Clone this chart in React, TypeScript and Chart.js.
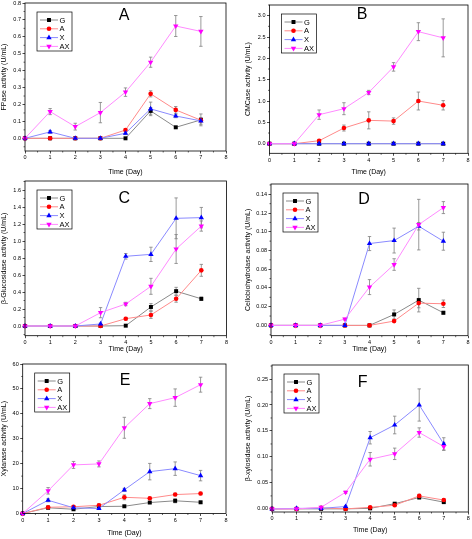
import React, { useEffect, useRef } from "react";
import { Chart, registerables } from "chart.js";

Chart.register(...registerables);

// ---------- data ----------
const days = [0, 1, 2, 3, 4, 5, 6, 7];
const seriesNames = ["G", "A", "X", "AX"];
const xTickLabels = ["0", "1", "2", "3", "4", "5", "6", "7", "8"];
const xTitle = "Time (Day)";

// A: FPase
const fpaseValues = [
  [0, 0, 0, 0, 0, 0.162, 0.065, 0.109],
  [0, 0, 0, 0, 0.049, 0.263, 0.168, 0.107],
  [0, 0.038, 0, 0, 0.03, 0.174, 0.132, 0.103],
  [0, 0.158, 0.069, 0.152, 0.273, 0.45, 0.664, 0.632],
];
const fpaseErrors = [
  [0, 0, 0, 0, 0, 0.02, 0.006, 0.035],
  [0, 0, 0, 0, 0.008, 0.018, 0.02, 0.01],
  [0, 0.008, 0, 0, 0.008, 0.04, 0.01, 0.02],
  [0, 0.018, 0.02, 0.06, 0.025, 0.03, 0.062, 0.088],
];
const fpaseTicks = ["0.0", "0.1", "0.2", "0.3", "0.4", "0.5", "0.6", "0.7", "0.8"];

// B: CMCase
const cmcaseValues = [
  [0, 0, 0, 0, 0, 0, 0, 0],
  [0, 0, 0.07, 0.367, 0.547, 0.53, 1.0, 0.9],
  [0, 0, 0, 0, 0, 0, 0, 0],
  [0, 0, 0.68, 0.82, 1.2, 1.8, 2.625, 2.48],
];
const cmcaseErrors = [
  [0, 0, 0, 0, 0, 0, 0, 0],
  [0, 0, 0.02, 0.07, 0.2, 0.075, 0.21, 0.11],
  [0, 0, 0, 0, 0, 0, 0, 0],
  [0, 0.03, 0.11, 0.14, 0.05, 0.1, 0.21, 0.445],
];
const cmcaseTicks = ["0.0", "0.5", "1.0", "1.5", "2.0", "2.5", "3.0"];

// C: beta-glucosidase
const glucValues = [
  [0, 0, 0, 0, 0.004, 0.224, 0.41, 0.32],
  [0, 0, 0, 0, 0.086, 0.13, 0.32, 0.655],
  [0, 0, 0, 0.024, 0.82, 0.843, 1.267, 1.275],
  [0, 0, 0, 0.157, 0.259, 0.467, 0.906, 1.176],
];
const glucErrors = [
  [0, 0, 0, 0, 0, 0.04, 0.045, 0.02],
  [0, 0, 0, 0, 0.015, 0.04, 0.04, 0.07],
  [0, 0.01, 0.01, 0.01, 0.033, 0.084, 0.24, 0.12],
  [0, 0, 0, 0.06, 0.02, 0.094, 0.17, 0.06],
];
const glucTicks = ["0.0", "0.2", "0.4", "0.6", "0.8", "1.0", "1.2", "1.4", "1.6"];

// D: cellobiohydrolase
const cbhValues = [
  [0, 0, 0, 0, 0, 0.0117, 0.027, 0.0135],
  [0, 0, 0, 0, 0, 0.0046, 0.0238, 0.0231],
  [0, 0, 0, 0, 0.0874, 0.0906, 0.1059, 0.0899],
  [0, 0, 0, 0.0067, 0.0409, 0.065, 0.1076, 0.1258],
];
const cbhErrors = [
  [0, 0, 0, 0, 0, 0.0048, 0.0126, 0.0015],
  [0, 0, 0, 0, 0, 0.001, 0.005, 0.004],
  [0, 0, 0, 0, 0.0075, 0.0133, 0.004, 0.0096],
  [0, 0, 0, 0.001, 0.008, 0.0062, 0.027, 0.0064],
];
const cbhTicks = ["0.00", "0.02", "0.04", "0.06", "0.08", "0.10", "0.12", "0.14"];

// E: xylanase
const xylValues = [
  [0, 2.3, 1.7, 2.8, 2.9, 4.4, 5.1, 4.5],
  [0, 2.5, 2.7, 3.3, 6.5, 6.1, 7.6, 8.0],
  [0, 5.3, 2.3, 2.0, 9.5, 16.8, 18.0, 15.2],
  [0, 9.1, 19.5, 19.9, 34.4, 44.1, 46.5, 51.7],
];
const xylErrors = [
  [0, 0.4, 0.3, 0.3, 0.3, 0.4, 0.8, 0.4],
  [0, 0.5, 0.4, 0.5, 1.0, 0.4, 0.5, 0.5],
  [0, 0.6, 0.4, 0.4, 0.6, 3.3, 2.7, 2.1],
  [0, 1.3, 1.4, 1.2, 4.2, 2.0, 3.5, 3.0],
];
const xylTicks = ["0", "10", "20", "30", "40", "50", "60"];

// F: beta-xylosidase
const xylosValues = [
  [0, 0, 0, 0, 0.001, 0.01, 0.022, 0.013],
  [0, 0, 0.002, 0, 0.003, 0.007, 0.025, 0.017],
  [0, 0.001, 0.001, 0.0045, 0.137, 0.1615, 0.2, 0.125],
  [0, 0, 0.003, 0.032, 0.0955, 0.106, 0.147, 0.12],
];
const xylosErrors = [
  [0, 0, 0, 0, 0.001, 0.002, 0.003, 0.002],
  [0, 0, 0, 0, 0.001, 0.002, 0.003, 0.002],
  [0, 0, 0, 0.002, 0.012, 0.017, 0.031, 0.012],
  [0, 0, 0, 0.002, 0.013, 0.011, 0.009, 0.007],
];
const xylosTicks = ["0.00", "0.05", "0.10", "0.15", "0.20", "0.25"];

// ---------- styles ----------
const FONT = "'Liberation Sans', Arial, sans-serif";
const lineColors = ["#8a8a8a", "#ff8a8a", "#8a8aff", "#ff8aff"];
const markerColors = ["#000000", "#ff0000", "#0000ff", "#ff00ff"];
const markerStyles = ["rect", "circle", "triangle", "triangle"];
const markerRotation = [0, 0, 0, 180];
const markerRadius = [2.8, 2.3, 3.1, 3.1];
const errColor = "#808080";
const TICK_FONT = 5.5;
const TITLE_FONT = 7;
const LEGEND_FONT = 7.5;

type PanelCfg = {
  letter: string;
  yTitle: string;
  values: number[][];
  errors: number[][];
  yTicks: string[];
  yMin: number;
  yMax: number;
  plot: { l: number; t: number; r: number; b: number };
  yTitleX: number;
  xTitleY: number;
  letterPos: { x: number; y: number };
};

const panels: PanelCfg[] = [
  {
    letter: "A", yTitle: "FPase activity (U/mL)", values: fpaseValues, errors: fpaseErrors,
    yTicks: fpaseTicks, yMin: -0.075, yMax: 0.8,
    plot: { l: 25, t: 3, r: 226, b: 151 }, yTitleX: 4.5, xTitleY: 172, letterPos: { x: 124, y: 15 },
  },
  {
    letter: "B", yTitle: "CMCase activity (U/mL)", values: cmcaseValues, errors: cmcaseErrors,
    yTicks: cmcaseTicks, yMin: -0.225, yMax: 3.25,
    plot: { l: 269.5, t: 5, r: 468, b: 153.3 }, yTitleX: 248, xTitleY: 171.7, letterPos: { x: 362, y: 14 },
  },
  {
    letter: "C", yTitle: "β-Glucosidase activity (U/mL)", values: glucValues, errors: glucErrors,
    yTicks: glucTicks, yMin: -0.114, yMax: 1.706,
    plot: { l: 25, t: 181, r: 226.5, b: 335.7 }, yTitleX: 4, xTitleY: 349.3, letterPos: { x: 124.3, y: 197.7 },
  },
  {
    letter: "D", yTitle: "Cellobiohydrolase activity (U/mL)", values: cbhValues, errors: cbhErrors,
    yTicks: cbhTicks, yMin: -0.011, yMax: 0.151,
    plot: { l: 271, t: 184, r: 468, b: 335.7 }, yTitleX: 248, xTitleY: 348.7, letterPos: { x: 364, y: 199 },
  },
  {
    letter: "E", yTitle: "Xylanase activity (U/mL)", values: xylValues, errors: xylErrors,
    yTicks: xylTicks, yMin: 0, yMax: 60,
    plot: { l: 22.7, t: 364, r: 226, b: 513.5 }, yTitleX: 4, xTitleY: 533, letterPos: { x: 125, y: 380 },
  },
  {
    letter: "F", yTitle: "β-xylosidase activity (U/mL)", values: xylosValues, errors: xylosErrors,
    yTicks: xylosTicks, yMin: -0.006, yMax: 0.277,
    plot: { l: 272, t: 365, r: 468.3, b: 512 }, yTitleX: 248, xTitleY: 530, letterPos: { x: 362.7, y: 381.7 },
  },
];

function drawMarker(ctx: CanvasRenderingContext2D, s: number, x: number, y: number) {
  const style = markerStyles[s];
  const r = markerRadius[s];
  ctx.save();
  ctx.fillStyle = markerColors[s];
  ctx.beginPath();
  if (style === "rect") {
    const h = r / Math.SQRT2;
    ctx.rect(x - h, y - h, 2 * h, 2 * h);
  } else if (style === "circle") {
    ctx.arc(x, y, r, 0, Math.PI * 2);
  } else {
    let a = (markerRotation[s] * Math.PI) / 180;
    for (let k = 0; k < 3; k++) {
      const px = x + Math.sin(a) * r;
      const py = y - Math.cos(a) * r;
      if (k === 0) ctx.moveTo(px, py);
      else ctx.lineTo(px, py);
      a += (2 * Math.PI) / 3;
    }
    ctx.closePath();
  }
  ctx.fill();
  ctx.restore();
}

const LH_TITLE = TITLE_FONT * 1.2;

function PanelChart({ p }: { p: PanelCfg }) {
  const ref = useRef<HTMLCanvasElement>(null);
  const cLeft = Math.floor(p.yTitleX - LH_TITLE / 2);
  const padLeft = p.yTitleX - LH_TITLE / 2 - cLeft;
  const cTop = Math.floor(p.plot.t - 10);
  const padTop = p.plot.t - cTop;
  const cRight = Math.ceil(p.plot.r + 8);
  const padRight = cRight - p.plot.r;
  const xAxisH = p.xTitleY + LH_TITLE / 2 - p.plot.b;
  const cBottom = Math.ceil(p.xTitleY + LH_TITLE / 2 + 1);
  const padBottom = cBottom - (p.xTitleY + LH_TITLE / 2);
  const yAxisW = p.plot.l - (cLeft + padLeft);
  const w = cRight - cLeft;
  const h = cBottom - cTop;

  useEffect(() => {
    const canvas = ref.current;
    if (!canvas) return;
    const yVals = p.yTicks.map((t) => parseFloat(t));
    const xVals = xTickLabels.map((t) => parseFloat(t));

    const decor = {
      id: "decor",
      beforeDatasetsDraw(chart: any) {
        const ctx: CanvasRenderingContext2D = chart.ctx;
        const xs = chart.scales.x;
        const ys = chart.scales.y;
        ctx.save();
        ctx.strokeStyle = errColor;
        ctx.lineWidth = 0.8;
        p.errors.forEach((errs, s) => {
          errs.forEach((e, i) => {
            if (!e) return;
            const v = p.values[s][i];
            const px = xs.getPixelForValue(days[i]);
            const pt = ys.getPixelForValue(v + e);
            const pb = ys.getPixelForValue(v - e);
            ctx.beginPath();
            ctx.moveTo(px, pt);
            ctx.lineTo(px, pb);
            ctx.moveTo(px - 1.7, pt);
            ctx.lineTo(px + 1.7, pt);
            ctx.moveTo(px - 1.7, pb);
            ctx.lineTo(px + 1.7, pb);
            ctx.stroke();
          });
        });
        ctx.restore();
      },
      afterDraw(chart: any) {
        const ctx: CanvasRenderingContext2D = chart.ctx;
        const { left, top, right, bottom } = chart.chartArea;
        const xs = chart.scales.x;
        const ys = chart.scales.y;
        ctx.save();
        // frame
        ctx.strokeStyle = "#000";
        ctx.lineWidth = 0.8;
        ctx.strokeRect(left, top, right - left, bottom - top);
        // minor ticks
        ctx.lineWidth = 0.6;
        ctx.beginPath();
        const step = yVals[1] - yVals[0];
        for (let k = -1; k < yVals.length; k++) {
          const v = yVals[0] + (k + 0.5) * step;
          if (v < p.yMin || v > p.yMax) continue;
          const py = ys.getPixelForValue(v);
          ctx.moveTo(left - 1.5, py);
          ctx.lineTo(left, py);
        }
        for (let k = 0; k < xVals.length - 1; k++) {
          const px = xs.getPixelForValue(xVals[k] + 0.5);
          ctx.moveTo(px, bottom);
          ctx.lineTo(px, bottom + 1.5);
        }
        ctx.stroke();
        // legend
        const bx = left + 12;
        const by = top + 9;
        ctx.lineWidth = 0.7;
        ctx.strokeStyle = "#000";
        ctx.strokeRect(bx, by, 35, 39);
        ctx.font = `${LEGEND_FONT}px ${FONT}`;
        ctx.textBaseline = "middle";
        ctx.textAlign = "left";
        seriesNames.forEach((name, s) => {
          const ry = by + 8 + s * 8.8;
          ctx.strokeStyle = lineColors[s];
          ctx.lineWidth = 1;
          ctx.beginPath();
          ctx.moveTo(bx + 3, ry);
          ctx.lineTo(bx + 21, ry);
          ctx.stroke();
          drawMarker(ctx, s, bx + 12, ry);
          ctx.fillStyle = "#000";
          ctx.fillText(name, bx + 22.5, ry + 0.5);
        });
        // panel letter
        ctx.font = `16px ${FONT}`;
        ctx.textAlign = "center";
        ctx.textBaseline = "middle";
        ctx.fillStyle = "#000";
        ctx.fillText(p.letter, p.letterPos.x - cLeft, p.letterPos.y - cTop + 1);
        ctx.restore();
      },
    };

    const chart = new Chart(canvas, {
      type: "scatter",
      data: {
        datasets: seriesNames.map((name, s) => ({
          label: name,
          data: days.map((d, i) => ({ x: d, y: p.values[s][i] })),
          showLine: true,
          borderColor: lineColors[s],
          borderWidth: 1,
          pointStyle: markerStyles[s] as any,
          rotation: markerRotation[s],
          pointRadius: markerRadius[s],
          pointBackgroundColor: markerColors[s],
          pointBorderColor: markerColors[s],
          pointBorderWidth: 0,
          clip: false as any,
          order: 3 - s,
          tension: 0,
        })),
      },
      options: {
        animation: false,
        responsive: false,
        events: [],
        layout: { padding: { left: padLeft, top: padTop, right: padRight, bottom: padBottom } },
        plugins: { legend: { display: false }, tooltip: { enabled: false } },
        scales: {
          x: {
            type: "linear",
            min: 0,
            max: 8,
            afterBuildTicks: (s: any) => {
              s.ticks = xVals.map((v) => ({ value: v }));
            },
            afterFit: (s: any) => {
              s.height = xAxisH;
            },
            ticks: {
              autoSkip: false,
              maxRotation: 0,
              padding: 1,
              color: "#000",
              font: { size: TICK_FONT, family: FONT },
              callback: (_v: any, i: number) => xTickLabels[i],
            },
            grid: { drawOnChartArea: false, drawTicks: true, tickLength: 2.5, color: "#000", lineWidth: 0.7 },
            border: { display: false },
            title: { display: true, text: xTitle, color: "#000", padding: 0, font: { size: TITLE_FONT, family: FONT } },
          },
          y: {
            type: "linear",
            min: p.yMin,
            max: p.yMax,
            afterBuildTicks: (s: any) => {
              s.ticks = yVals.map((v) => ({ value: v }));
            },
            afterFit: (s: any) => {
              s.width = yAxisW;
            },
            ticks: {
              autoSkip: false,
              padding: 1.5,
              color: "#000",
              font: { size: TICK_FONT, family: FONT },
              callback: (_v: any, i: number) => p.yTicks[i],
            },
            grid: { drawOnChartArea: false, drawTicks: true, tickLength: 2.5, color: "#000", lineWidth: 0.7 },
            border: { display: false },
            title: { display: true, text: p.yTitle, color: "#000", padding: 0, font: { size: TITLE_FONT, family: FONT } },
          },
        },
      } as any,
      plugins: [decor],
    });
    return () => chart.destroy();
  }, []);

  return (
    <canvas
      ref={ref}
      width={w}
      height={h}
      style={{ position: "absolute", left: cLeft, top: cTop, width: w, height: h }}
    />
  );
}

export default function App() {
  return (
    <div style={{ position: "absolute", left: 0, top: 0, width: 472, height: 539, background: "#fff" }}>
      {panels.map((p) => (
        <PanelChart key={p.letter} p={p} />
      ))}
    </div>
  );
}
